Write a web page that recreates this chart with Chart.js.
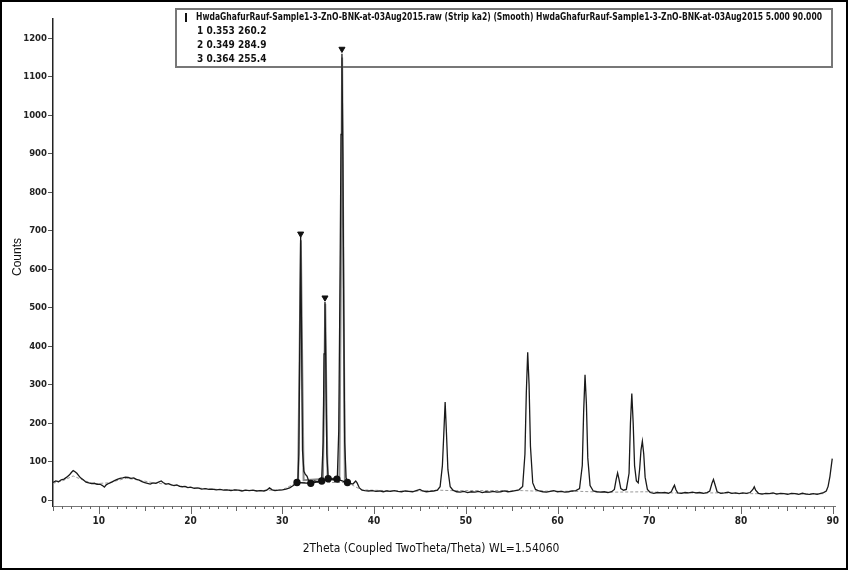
<!DOCTYPE html>
<html>
<head>
<meta charset="utf-8">
<script src="https://cdn.jsdelivr.net/npm/chart.js@4.4.1/dist/chart.umd.min.js"></script>
<style>
  html, body { margin: 0; padding: 0; background: #fff; }
  #wrap { width: 848px; height: 570px; position: relative; }
</style>
</head>
<body>
<div id="wrap"><canvas id="xrd"></canvas></div>
<script>
//================================ DATA ================================
// measured pattern (2theta in degrees, counts)
var twoTheta = [5.0,5.3,5.6,5.9,6.2,6.5,6.8,7.0,7.2,7.4,7.6,7.8,8.0,8.3,8.6,8.9,9.2,9.5,9.8,10.1,
  10.4,10.6,10.8,11.1,11.4,11.7,12.0,12.3,12.6,12.9,13.2,13.5,13.8,14.1,14.4,14.7,15.0,15.3,15.6,15.9,
  16.2,16.5,16.8,17.0,17.3,17.6,17.9,18.2,18.5,18.8,19.1,19.4,19.7,20.0,20.4,20.8,21.2,21.6,22.0,22.4,
  22.8,23.2,23.6,24.0,24.4,24.8,25.2,25.6,26.0,26.4,26.8,27.2,27.6,28.0,28.3,28.6,28.9,29.2,29.6,30.0,
  30.4,30.8,31.2,31.5,31.7,31.8,31.9,32.0,32.1,32.2,32.35,32.5,32.7,32.9,33.1,33.3,33.5,33.8,34.1,34.3,
  34.45,34.55,34.65,34.75,34.85,35.0,35.2,35.5,35.8,36.0,36.15,36.3,36.4,36.5,36.6,36.7,36.8,36.95,37.1,37.4,
  37.7,38.0,38.15,38.4,38.7,39.0,39.4,39.8,40.2,40.6,41.0,41.4,41.8,42.2,42.6,43.0,43.4,43.8,44.2,44.6,
  45.0,45.3,45.7,46.1,46.5,46.9,47.2,47.45,47.6,47.75,47.9,48.05,48.3,48.6,49.0,49.4,49.8,50.2,50.6,51.0,
  51.4,51.8,52.2,52.6,53.0,53.4,53.8,54.2,54.6,55.0,55.4,55.8,56.2,56.45,56.6,56.75,56.9,57.05,57.3,57.6,
  58.0,58.4,58.8,59.2,59.6,60.0,60.4,60.8,61.2,61.6,62.0,62.4,62.7,62.85,63.0,63.15,63.3,63.55,63.9,64.3,
  64.7,65.1,65.5,65.9,66.2,66.4,66.55,66.7,66.9,67.2,67.5,67.8,67.95,68.1,68.25,68.4,68.6,68.8,68.95,69.1,
  69.25,69.4,69.55,69.8,70.1,70.5,70.9,71.3,71.7,72.1,72.4,72.6,72.75,72.9,73.1,73.5,73.9,74.3,74.7,75.1,
  75.5,75.9,76.3,76.6,76.85,77.0,77.15,77.4,77.8,78.2,78.6,79.0,79.4,79.8,80.2,80.6,81.0,81.3,81.45,81.6,
  81.9,82.3,82.7,83.1,83.5,83.9,84.3,84.7,85.1,85.5,85.9,86.3,86.7,87.1,87.5,87.9,88.3,88.7,89.0,89.3,
  89.5,89.7,89.85,89.95];
var counts = [46,50,48,53,55,60,66,72,77,74,70,64,58,53,47,45,43,44,41,42,
  38,34,40,44,47,51,54,57,58,60,59,57,58,54,52,48,46,44,42,45,
  44,47,50,46,42,43,40,38,40,36,35,36,33,34,31,32,29,30,28,29,
  27,28,26,27,25,27,26,24,26,25,26,24,25,24,26,32,27,25,26,27,
  29,32,38,44,52,120,400,685,420,130,75,68,62,48,42,46,50,48,50,60,
  150,380,515,340,120,58,55,53,54,60,180,600,950,1160,900,480,150,60,47,44,
  42,50,45,32,26,25,24,25,23,24,22,24,23,25,23,22,24,23,22,25,
  28,24,22,23,24,26,35,90,170,255,170,80,35,26,22,21,23,20,22,21,
  23,20,22,21,23,21,22,24,22,23,25,27,36,120,280,384,300,140,45,28,
  24,22,21,23,25,22,23,21,22,24,25,30,90,230,326,250,110,38,24,22,
  21,22,20,22,28,55,71,55,30,26,28,70,200,277,200,90,50,45,80,130,
  153,120,60,28,20,18,20,19,20,18,22,32,39,28,19,18,20,19,21,19,
  20,18,20,24,45,54,42,22,18,19,21,18,19,17,19,18,20,28,35,26,
  18,16,18,17,19,16,18,17,15,18,17,15,18,16,15,17,15,18,20,24,
  36,62,90,108];

// grey background / fit lines
var bgTheta = [5.0,6.0,7.2,8.5,9.5,11.0,13.0,14.5,16.0,18.0,20.0,23.0,27.0,30.0,31.6,
  37.1,38.6,44.0,47.2,48.3,56.2,57.3,62.5,63.6,66.2,69.8,72.5,73.0,76.7,77.3,81.2,81.7,89.2];
var bgCounts = [44,50,63,50,43,45,57,52,45,40,33,28,25,27,46,
  46,27,23,26,25,25,24,23,22,21,22,19,19,19,19,17,17,17];
var fitTheta = [31.72,31.86,32.02,32.18,32.32, 34.42,34.55,34.68,34.81,34.94, 36.22,36.37,36.52,36.67,36.82];
var fitCounts = [50,330,675,330,52, 55,260,510,250,56, 56,560,1150,560,52];

// peak search markers
var peakTheta = [32.0, 34.65, 36.5];
var peakCounts = [692, 526, 1172];
var baseTheta = [31.6, 33.1, 34.3, 35.0, 35.95, 37.1];
var baseCounts = [46, 44, 50, 56, 55, 46];

// axis / legend texts
var xTitle = "2Theta (Coupled TwoTheta/Theta) WL=1.54060";
var yTitle = "Counts";
var legendHeader = "HwdaGhafurRauf-Sample1-3-ZnO-BNK-at-03Aug2015.raw (Strip ka2) (Smooth) HwdaGhafurRauf-Sample1-3-ZnO-BNK-at-03Aug2015 5.000 90.000";
var legendRows = ["1 0.353 260.2", "2 0.349 284.9", "3 0.364 255.4"];

//================================ HELPERS ================================
function pairs(xs, ys) {
  return xs.map(function (x, i) { return { x: x, y: ys[i] }; });
}

var NARROW = '"Liberation Sans Narrow", "DejaVu Sans Condensed", sans-serif';

//========================== DECORATION PLUGIN ============================
var decor = {
  id: 'decor',
  beforeDatasetsDraw: function (chart) {
    var ctx = chart.ctx;
    ctx.save();
    // legend box
    ctx.strokeStyle = '#777';
    ctx.lineWidth = 2;
    ctx.strokeRect(176, 9, 656, 58);
    ctx.fillStyle = '#111';
    ctx.fillRect(185, 13, 2, 9);
    ctx.font = 'bold 10px ' + NARROW;
    ctx.textBaseline = 'middle';
    var w = ctx.measureText(legendHeader).width;
    ctx.save();
    ctx.translate(196, 17);
    ctx.scale(626 / w, 1);
    ctx.fillText(legendHeader, 0, 0);
    ctx.restore();
    for (var i = 0; i < legendRows.length; i++) {
      ctx.fillText(legendRows[i], 197, 31 + i * 14);
    }
    ctx.restore();
  },
  afterDraw: function (chart) {
    var ctx = chart.ctx;
    var xs = chart.scales.x;
    var bottom = chart.chartArea.bottom;
    ctx.save();
    // x ticks : minor every degree, longer every 5 and 10
    ctx.strokeStyle = '#666';
    ctx.lineWidth = 1;
    for (var d = 5; d <= 90; d++) {
      var px = Math.round(xs.getPixelForValue(d)) + 0.5;
      var len = d % 10 === 0 ? 8 : (d % 5 === 0 ? 5 : 3);
      ctx.beginPath();
      ctx.moveTo(px, bottom);
      ctx.lineTo(px, bottom + len);
      ctx.stroke();
    }
    // axis titles
    ctx.fillStyle = '#111';
    ctx.textAlign = 'center';
    ctx.textBaseline = 'middle';
    ctx.font = '12px ' + NARROW;
    ctx.fillText(xTitle, 431, 549);
    ctx.save();
    ctx.translate(18, 257);
    ctx.rotate(-Math.PI / 2);
    ctx.font = '12px "Liberation Sans", Arial, sans-serif';
    ctx.fillText(yTitle, 0, 0);
    ctx.restore();
    // outer frame
    ctx.strokeStyle = '#000';
    ctx.lineWidth = 2;
    ctx.strokeRect(1, 1, chart.width - 2, chart.height - 2);
    ctx.restore();
  }
};

//================================ CHART ================================
Chart.defaults.font.family = NARROW;
Chart.defaults.color = '#222';

new Chart(document.getElementById('xrd'), {
  type: 'line',
  data: {
    datasets: [
      {
        data: pairs(peakTheta, peakCounts),
        showLine: false,
        pointStyle: 'triangle',
        rotation: 180,
        pointRadius: 3.5,
        pointBackgroundColor: '#111',
        pointBorderColor: '#111',
        order: 0
      },
      {
        data: pairs(baseTheta, baseCounts),
        borderColor: '#111',
        borderWidth: 1.3,
        pointRadius: 3,
        pointBackgroundColor: '#111',
        pointBorderColor: '#111',
        order: 1
      },
      {
        data: pairs(twoTheta, counts),
        borderColor: '#1a1a1a',
        borderWidth: 1.3,
        pointRadius: 0,
        order: 2
      },
      {
        data: pairs(fitTheta, fitCounts),
        borderColor: '#8a8a8a',
        borderWidth: 2,
        pointRadius: 0,
        order: 3
      },
      {
        data: pairs(bgTheta, bgCounts),
        borderColor: '#9a9a9a',
        borderWidth: 1,
        borderDash: [3, 2],
        pointRadius: 0,
        order: 4
      }
    ]
  },
  options: {
    responsive: true,
    maintainAspectRatio: false,
    animation: false,
    layout: { padding: { left: 0, right: 12, top: 19, bottom: 0 } },
    plugins: {
      legend: { display: false },
      tooltip: { enabled: false }
    },
    scales: {
      x: {
        type: 'linear',
        min: 5,
        max: 90.3,
        afterFit: function (s) { s.height = 64; },
        afterBuildTicks: function (s) {
          var t = [];
          for (var v = 10; v <= 90; v += 10) t.push({ value: v });
          s.ticks = t;
        },
        grid: { display: false, drawTicks: false },
        border: { color: '#777', width: 1 },
        ticks: {
          autoSkip: false,
          maxRotation: 0,
          padding: 9,
          font: { size: 10, weight: 'bold' },
          color: '#222'
        }
      },
      y: {
        min: -15,
        max: 1250,
        afterFit: function (s) { s.width = 53; },
        afterBuildTicks: function (s) {
          var t = [];
          for (var v = 0; v <= 1200; v += 100) t.push({ value: v });
          s.ticks = t;
        },
        grid: { drawOnChartArea: false, tickLength: 5, color: '#555' },
        border: { color: '#222', width: 1.5, dash: [1, 2] },
        ticks: {
          padding: 1,
          font: { size: 9.5, weight: 'bold' },
          color: '#222',
          callback: function (v) { return String(v); }
        }
      }
    }
  },
  plugins: [decor]
});
</script>
</body>
</html>
